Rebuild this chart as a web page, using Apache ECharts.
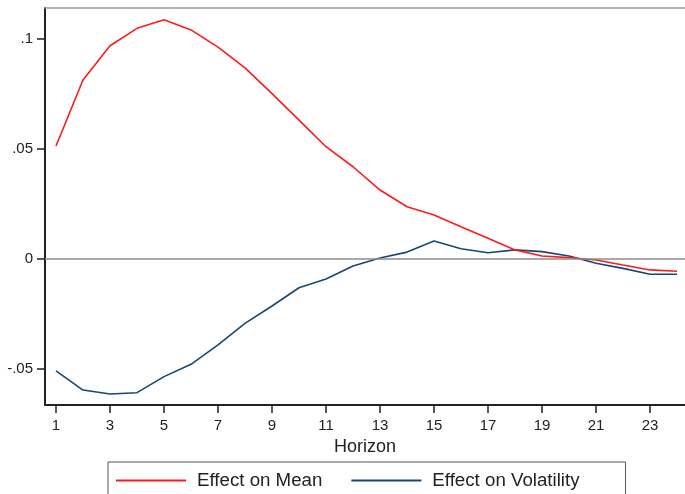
<!DOCTYPE html>
<html>
<head>
<meta charset="utf-8">
<script src="https://cdn.jsdelivr.net/npm/echarts@6/dist/echarts.min.js"></script>
<style>
  html, body { margin: 0; padding: 0; background: #fff; }
  #chart { width: 685px; height: 494px; }
</style>
</head>
<body>
<div id="chart"></div>
<script>
const horizon = [1, 2, 3, 4, 5, 6, 7, 8, 9, 10, 11, 12, 13, 14, 15, 16, 17, 18, 19, 20, 21, 22, 23, 24];
const effectMean = [0.0512, 0.0812, 0.0968, 0.1047, 0.1086, 0.1040, 0.0962, 0.0867, 0.0750, 0.0630, 0.0509, 0.0418, 0.0312, 0.0236, 0.0199, 0.0145, 0.0093, 0.0040, 0.0012, 0.0005, -0.0006, -0.0029, -0.0051, -0.0057];
const effectVol = [-0.0510, -0.0597, -0.0615, -0.0609, -0.0536, -0.0480, -0.0392, -0.0294, -0.0215, -0.0132, -0.0092, -0.0033, 0.0003, 0.0030, 0.0080, 0.0045, 0.0027, 0.0040, 0.0032, 0.0012, -0.0021, -0.0044, -0.0071, -0.0071];
const xTicks = [1, 3, 5, 7, 9, 11, 13, 15, 17, 19, 21, 23];
const yTicks = [-0.05, 0, 0.05, 0.1];
const yTickLabels = { "-0.05": "-.05", "0": "0", "0.05": ".05", "0.1": ".1" };

const font = 'Arial, "Liberation Sans", sans-serif';
const chart = echarts.init(document.getElementById("chart"));

const pairs = (ys) => horizon.map((h, i) => [h, ys[i]]);
const xMin = 0.5926;
const xMax = 24.296;

chart.setOption({
  animation: false,
  grid: {
    left: 45,
    top: 8,
    width: 640,
    height: 397
  },
  legend: {
    left: 108,
    top: 462,
    padding: [9, 46, 40, 8],
    borderColor: "#555",
    borderWidth: 1,
    itemWidth: 70,
    itemHeight: 2,
    itemGap: 29,
    icon: "rect",
    textStyle: { fontFamily: font, fontSize: 18.7, color: "#222", padding: [0, 0, 0, 6] },
    data: ["Effect on Mean", "Effect on Volatility"]
  },
  xAxis: [
    {
      type: "value",
      min: xMin,
      max: xMax,
      name: "Horizon",
      nameLocation: "middle",
      nameGap: 29,
      nameTextStyle: { fontFamily: font, fontSize: 18, color: "#222" },
      axisLine: { onZero: false, lineStyle: { color: "#222", width: 2 } },
      axisTick: { show: true, length: 8, lineStyle: { color: "#222", width: 1.5 }, customValues: xTicks },
      axisLabel: { fontFamily: font, fontSize: 15, color: "#222", margin: 13, customValues: xTicks },
      splitLine: { show: false }
    },
    {
      // plain frame line along the top of the plot region
      type: "value",
      position: "top",
      min: xMin,
      max: xMax,
      axisLine: { show: true, onZero: false, lineStyle: { color: "#9a9a9a", width: 1.5 } },
      axisTick: { show: false },
      axisLabel: { show: false },
      splitLine: { show: false }
    }
  ],
  yAxis: {
    type: "value",
    min: -0.0665,
    max: 0.11395,
    axisLine: { show: true, onZero: false, lineStyle: { color: "#222", width: 2 } },
    axisTick: { show: true, length: 8, lineStyle: { color: "#222", width: 1.5 }, customValues: yTicks },
    axisLabel: {
      fontFamily: font, fontSize: 15, color: "#222", margin: 12,
      customValues: yTicks,
      formatter: (v) => yTickLabels[String(Math.round(v * 100) / 100)]
    },
    splitLine: { show: false }
  },
  series: [
    {
      name: "Effect on Mean",
      type: "line",
      data: pairs(effectMean),
      symbol: "none",
      lineStyle: { color: "#ff1a1a", width: 1.6 },
      itemStyle: { color: "#ff1a1a" },
      markLine: {
        silent: true,
        symbol: "none",
        label: { show: false },
        lineStyle: { color: "#8c8c8c", width: 1.5, type: "solid" },
        data: [{ yAxis: 0 }]
      },
      z: 3
    },
    {
      name: "Effect on Volatility",
      type: "line",
      data: pairs(effectVol),
      symbol: "none",
      lineStyle: { color: "#1a476f", width: 1.6 },
      itemStyle: { color: "#1a476f" },
      z: 2
    }
  ]
});
</script>
</body>
</html>
